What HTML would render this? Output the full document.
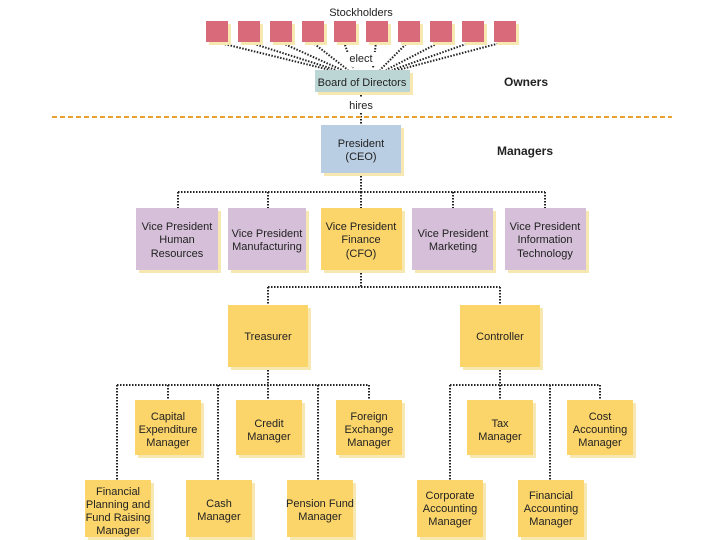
<!DOCTYPE html>
<html><head><meta charset="utf-8"><style>
html,body{margin:0;padding:0;background:#fff;}
svg{display:block;font-family:"Liberation Sans",sans-serif;}
</style></head><body>
<svg width="720" height="540" viewBox="0 0 720 540" xmlns="http://www.w3.org/2000/svg">
<defs>
<g id="x"></g>
</defs>
<g fill="none" stroke="#222" stroke-width="2" stroke-dasharray="1.5,1.5">
<!-- stockholders to board -->
<path d="M216 42L330 70M248 42L336 70M280 42L342 70M312 42L348 70M344 42L353 68M376 42L373 68M408 42L380 70M440 42L386 70M472 42L392 70M504 42L398 70"/>
<path d="M361 92V125"/>
<path d="M361 173V192M178 192H545M178 192V208M268 192V208M361 192V208M453 192V208M545 192V208"/>
<path d="M361 270V287M268 287H500M268 287V305M500 287V305"/>
<path d="M268 367V385M117 385H369M117 385V480M168 385V400M218 385V480M268 385V400M318 385V480M369 385V400"/>
<path d="M500 367V385M450 385H600M450 385V480M500 385V400M550 385V480M600 385V400"/>
</g>
<line x1="52" y1="117" x2="672" y2="117" stroke="#e8a030" stroke-width="2" stroke-dasharray="5,3"/>
<g fill="#f7e7b0">
<!-- shadows -->
<rect x="209" y="24" width="22" height="21"/><rect x="241" y="24" width="22" height="21"/><rect x="273" y="24" width="22" height="21"/><rect x="305" y="24" width="22" height="21"/><rect x="337" y="24" width="22" height="21"/><rect x="369" y="24" width="22" height="21"/><rect x="401" y="24" width="22" height="21"/><rect x="433" y="24" width="22" height="21"/><rect x="465" y="24" width="22" height="21"/><rect x="497" y="24" width="22" height="21"/>
<rect x="318" y="73" width="95" height="22"/>
<rect x="324" y="128" width="80" height="48"/>
<rect x="139" y="211" width="82" height="62"/><rect x="231" y="211" width="78" height="62"/><rect x="324" y="211" width="81" height="62"/><rect x="415" y="211" width="81" height="62"/><rect x="508" y="211" width="81" height="62"/>
<rect x="231" y="308" width="80" height="62"/><rect x="463" y="308" width="80" height="62"/>
<rect x="138" y="403" width="66" height="55"/><rect x="239" y="403" width="66" height="55"/><rect x="339" y="403" width="66" height="55"/>
<rect x="88" y="483" width="66" height="57"/><rect x="189" y="483" width="66" height="57"/><rect x="290" y="483" width="66" height="57"/>
<rect x="470" y="403" width="66" height="55"/><rect x="570" y="403" width="66" height="55"/>
<rect x="420" y="483" width="66" height="57"/><rect x="521" y="483" width="66" height="57"/>
</g>
<g fill="#d96a7a">
<rect x="206" y="21" width="22" height="21"/><rect x="238" y="21" width="22" height="21"/><rect x="270" y="21" width="22" height="21"/><rect x="302" y="21" width="22" height="21"/><rect x="334" y="21" width="22" height="21"/><rect x="366" y="21" width="22" height="21"/><rect x="398" y="21" width="22" height="21"/><rect x="430" y="21" width="22" height="21"/><rect x="462" y="21" width="22" height="21"/><rect x="494" y="21" width="22" height="21"/>
</g>
<rect x="315" y="70" width="95" height="22" fill="#bcd6d6"/>
<rect x="321" y="125" width="80" height="48" fill="#b9cde3"/>
<g fill="#d6bfd9">
<rect x="136" y="208" width="82" height="62"/><rect x="228" y="208" width="78" height="62"/><rect x="412" y="208" width="81" height="62"/><rect x="505" y="208" width="81" height="62"/>
</g>
<g fill="#fbd46a">
<rect x="321" y="208" width="81" height="62"/>
<rect x="228" y="305" width="80" height="62"/><rect x="460" y="305" width="80" height="62"/>
<rect x="135" y="400" width="66" height="55"/><rect x="236" y="400" width="66" height="55"/><rect x="336" y="400" width="66" height="55"/>
<rect x="85" y="480" width="66" height="57"/><rect x="186" y="480" width="66" height="57"/><rect x="287" y="480" width="66" height="57"/>
<rect x="467" y="400" width="66" height="55"/><rect x="567" y="400" width="66" height="55"/>
<rect x="417" y="480" width="66" height="57"/><rect x="518" y="480" width="66" height="57"/>
</g>
<rect x="345" y="52" width="32" height="14" fill="#fff"/>
<rect x="346" y="98" width="30" height="14" fill="#fff"/>
<g font-size="11" fill="#222" text-anchor="middle">
<text x="361" y="16">Stockholders</text>
<text x="361" y="62">elect</text>
<text x="362" y="86">Board of Directors</text>
<text x="361" y="109">hires</text>
<text x="361" y="147">President</text><text x="361" y="160">(CEO)</text>
<text x="177" y="230">Vice President</text><text x="177" y="243">Human</text><text x="177" y="257">Resources</text>
<text x="267" y="237">Vice President</text><text x="267" y="250">Manufacturing</text>
<text x="361" y="230">Vice President</text><text x="361" y="243">Finance</text><text x="361" y="257">(CFO)</text>
<text x="453" y="237">Vice President</text><text x="453" y="250">Marketing</text>
<text x="545" y="230">Vice President</text><text x="545" y="243">Information</text><text x="545" y="257">Technology</text>
<text x="268" y="340">Treasurer</text>
<text x="500" y="340">Controller</text>
<text x="168" y="420">Capital</text><text x="168" y="433">Expenditure</text><text x="168" y="446">Manager</text>
<text x="269" y="427">Credit</text><text x="269" y="440">Manager</text>
<text x="369" y="420">Foreign</text><text x="369" y="433">Exchange</text><text x="369" y="446">Manager</text>
<text x="118" y="495">Financial</text><text x="118" y="508">Planning and</text><text x="118" y="521">Fund Raising</text><text x="118" y="534">Manager</text>
<text x="219" y="507">Cash</text><text x="219" y="520">Manager</text>
<text x="320" y="507">Pension Fund</text><text x="320" y="520">Manager</text>
<text x="500" y="427">Tax</text><text x="500" y="440">Manager</text>
<text x="600" y="420">Cost</text><text x="600" y="433">Accounting</text><text x="600" y="446">Manager</text>
<text x="450" y="499">Corporate</text><text x="450" y="512">Accounting</text><text x="450" y="525">Manager</text>
<text x="551" y="499">Financial</text><text x="551" y="512">Accounting</text><text x="551" y="525">Manager</text>
</g>
<g font-size="12" font-weight="bold" fill="#222">
<text x="504" y="86">Owners</text>
<text x="497" y="155">Managers</text>
</g>
</svg>
</body></html>
